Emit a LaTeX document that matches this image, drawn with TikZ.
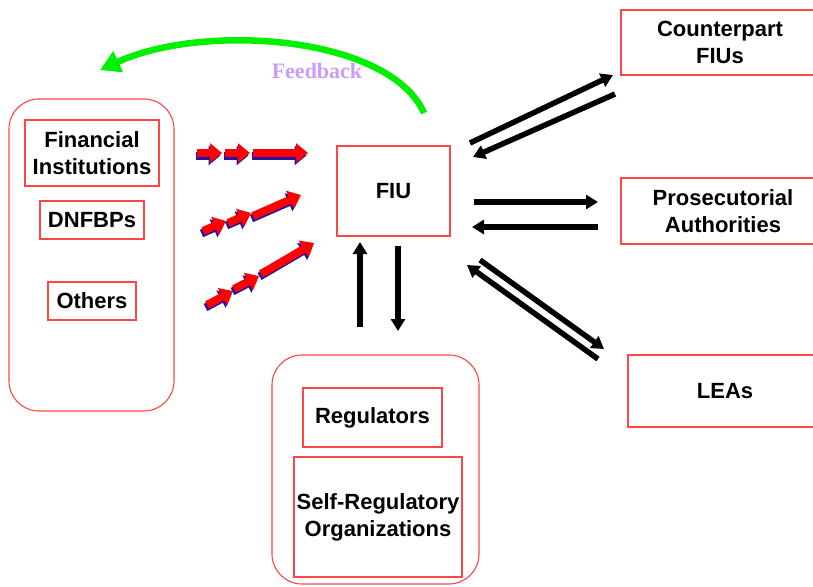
\documentclass[tikz,border=0pt]{standalone}
\usepackage{fontspec}
\setmainfont{Liberation Sans}
\newfontfamily\serifbf{Liberation Serif}
\usetikzlibrary{arrows.meta}
\definecolor{boxred}{RGB}{255,70,70}
\definecolor{fbpurple}{RGB}{205,155,250}
\definecolor{fbgreen}{RGB}{0,240,0}
\definecolor{shadowblue}{RGB}{40,20,160}
\tikzset{
  group/.style={draw=boxred, line width=1.1pt, rounded corners=30pt},
  lbl/.style={draw=boxred, line width=1.1pt, align=center, inner sep=0pt,
     font=\fontsize{22}{27}\selectfont\bfseries},
  blk/.style={line width=5.5pt, -{Triangle[width=14pt,length=12pt]}},
  redarr/.style={line width=8pt, red, -{Triangle[width=19pt,length=12pt]}},
  bluearr/.style={line width=8pt, shadowblue, -{Triangle[width=19pt,length=12pt]}},
}
\newcommand{\fatarrow}[2]{%
  \draw[bluearr, transform canvas={shift={(-1.5pt,-2.5pt)}}] #1 -- #2;
  \draw[redarr] #1 -- #2;}
\begin{document}
\begin{tikzpicture}[x=1pt,y=-1pt]
\useasboundingbox (0,0) rectangle (813,586);
\fill[white] (0,0) rectangle (813,586);

% groups
\draw[group] (9,99) rectangle (174,411);
\draw[group] (272,355) rectangle (479,584);

% left boxes
\node[lbl, minimum width=134pt, minimum height=66pt] (fi) at (92,153) {Financial\\Institutions};
\node[lbl, minimum width=104pt, minimum height=38pt] (dn) at (92,220) {DNFBPs};
\node[lbl, minimum width=88pt, minimum height=38pt] (ot) at (92,301) {Others};

% FIU
\node[lbl, minimum width=113pt, minimum height=90pt] (fiu) at (393.5,191) {FIU};

% bottom boxes
\node[lbl, minimum width=139pt, minimum height=59pt] (reg) at (372.5,417.5) {Regulators};
\node[lbl, minimum width=168pt, minimum height=120pt] (sro) at (378,517) {Self-Regulatory\\Organizations};

% right boxes
\node[lbl, minimum width=198pt, minimum height=65pt] (cf) at (720,42.5) {Counterpart\\FIUs};
\node[lbl, minimum width=204pt, minimum height=66pt] (pa) at (723,211) {Prosecutorial\\Authorities};
\node[lbl, minimum width=194pt, minimum height=72pt] (lea) at (725,391) {LEAs};

% coordinates for connectors
\coordinate (c1a) at (470,143); \coordinate (c1b) at (613,75);
\coordinate (c2a) at (615,94);  \coordinate (c2b) at (473,157);
\coordinate (p1a) at (474,202); \coordinate (p1b) at (598,202);
\coordinate (p2a) at (598,227); \coordinate (p2b) at (472,227);
\coordinate (l1a) at (480,260); \coordinate (l1b) at (604,349);
\coordinate (l2a) at (598,359); \coordinate (l2b) at (467,265);
\coordinate (v1a) at (360,327); \coordinate (v1b) at (360,242);
\coordinate (v2a) at (398,246); \coordinate (v2b) at (398,331);

\draw[blk] (c1a) -- (c1b);
\draw[blk] (c2a) -- (c2b);
\draw[blk] (p1a) -- (p1b);
\draw[blk] (p2a) -- (p2b);
\draw[blk] (l1a) -- (l1b);
\draw[blk] (l2a) -- (l2b);
\draw[blk] (v1a) -- (v1b);
\draw[blk] (v2a) -- (v2b);

% feedback
\coordinate (fbs) at (424,113);
\coordinate (fbe) at (100,70);
\draw[fbgreen, line width=6.5pt, -{Triangle[width=22pt,length=20pt]}]
  (fbs) .. controls (390,36) and (205,22) .. (fbe);
\node[text=fbpurple, font=\serifbf\fontsize{22}{26}\selectfont\bfseries] (fb) at (317,71) {Feedback};

% red arrows
\fatarrow{(197,153)}{(222,153)}
\fatarrow{(225,153)}{(250,153)}
\fatarrow{(253,153)}{(308,153)}
\fatarrow{(203,231)}{(226,221)}
\fatarrow{(228,223)}{(251,213)}
\fatarrow{(253,216)}{(301,195)}
\fatarrow{(207,305)}{(233,291)}
\fatarrow{(234,289)}{(259,276)}
\fatarrow{(261,274)}{(314,243)}
\end{tikzpicture}
\end{document}
